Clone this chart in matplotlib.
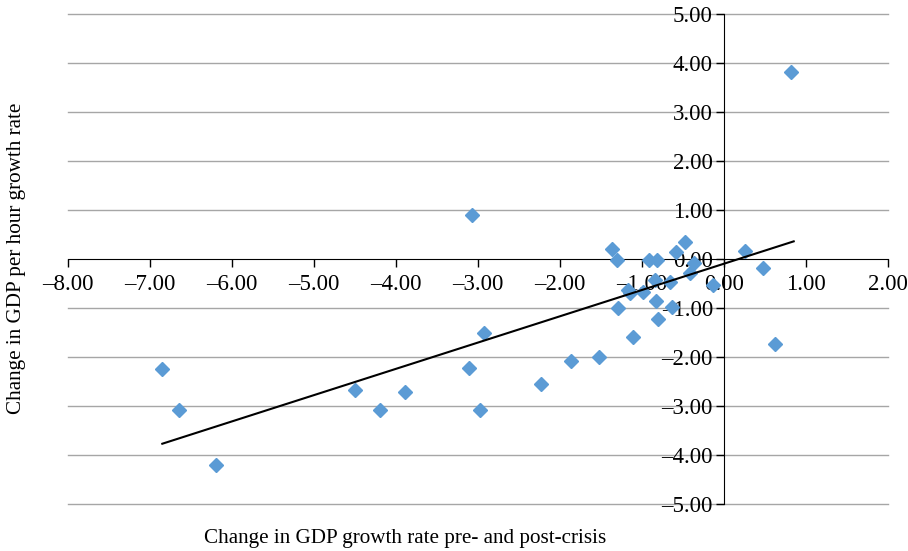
import numpy as np
import matplotlib
matplotlib.use("Agg")
import matplotlib.pyplot as plt
from matplotlib.ticker import FuncFormatter

plt.rcParams["font.family"] = ["Liberation Serif", "DejaVu Serif"]

# Change in GDP growth rate pre/post crisis (x) vs change in GDP per hour growth rate (y)
gdp_change = [
    -6.85, -6.65, -6.20, -4.50, -4.19, -3.89, -3.07, -3.11, -2.93, -2.97,
    -2.23, -1.86, -1.53, -1.11, -1.29, -1.36, -1.31, -0.92, -0.82, -0.58,
    -0.48, -0.37, -0.42, -0.84, -0.66, -1.17, -1.15, -0.99, -0.83, -0.63,
    -0.80, -0.13, 0.25, 0.47, 0.62, 0.82,
]
gdp_hour_change = [
    -2.24, -3.08, -4.20, -2.67, -3.08, -2.71, 0.90, -2.22, -1.52, -3.08,
    -2.56, -2.08, -2.00, -1.59, -0.99, 0.20, -0.02, -0.03, -0.03, 0.14,
    0.34, -0.08, -0.28, -0.43, -0.47, -0.63, -0.70, -0.67, -0.85, -0.97,
    -1.22, -0.53, 0.17, -0.18, -1.73, 3.82,
]

# linear trend line end points
trend_x = [-6.85, 0.85]
trend_y = [-3.77, 0.36]

x_ticks = np.arange(-8, 2.01, 1)
y_ticks = np.arange(-5, 5.01, 1)

fig = plt.figure(figsize=(9.08, 5.51), dpi=100)
ax = fig.add_axes([68/908, 1-504/551, 820/908, 490/551])

for yt in y_ticks:
    if yt != 0:
        ax.axhline(yt, color="#a6a6a6", lw=1.0, zorder=0, clip_on=False)

ax.plot(gdp_change, gdp_hour_change, ls="none", marker="D", markersize=7,
        color="#5b9bd5", zorder=3)
ax.plot(trend_x, trend_y, color="black", lw=1.5, zorder=4)

ax.set_xlim(-8, 2)
ax.set_ylim(-5, 5)
ax.set_xticks(x_ticks)
ax.set_yticks(y_ticks)

fmt = FuncFormatter(lambda v, p: ("%.2f" % v).replace("-", "\u2013"))
ax.xaxis.set_major_formatter(fmt)
ax.yaxis.set_major_formatter(fmt)

ax.spines["top"].set_visible(False)
ax.spines["right"].set_visible(False)
ax.spines["left"].set_position(("data", 0))
ax.spines["bottom"].set_position(("data", 0))
ax.tick_params(direction="out", length=6, width=1, labelsize=16.5, pad=2)
ax.tick_params(axis="x", pad=5)

fig.text(17/908, 1-258/551, "Change in GDP per hour growth rate", rotation=90,
         ha="center", va="center", fontsize=15.2)
fig.text(405/908, 1-538/551, "Change in GDP growth rate pre- and post-crisis",
         ha="center", va="center", fontsize=15.2)

fig.savefig("out.png", dpi=100)
